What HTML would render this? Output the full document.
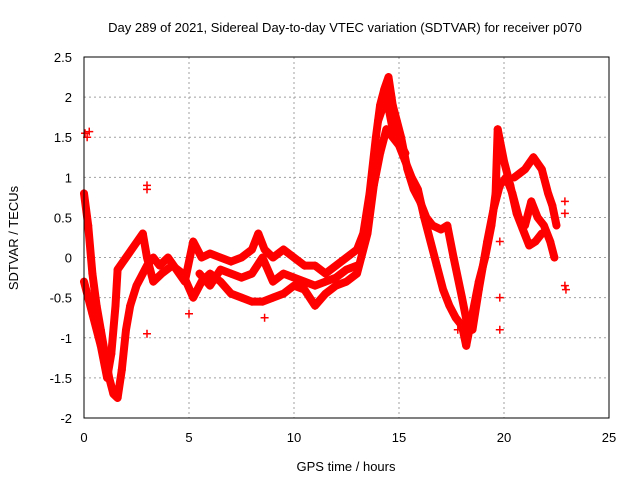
<!DOCTYPE html>
<html><head><meta charset="utf-8">
<style>
body{margin:0;background:#fff;}
svg text{font-family:"Liberation Sans",sans-serif;font-size:13px;fill:#000;}
</style></head>
<body>
<svg id="chart" width="640" height="480" xmlns="http://www.w3.org/2000/svg">
<rect width="640" height="480" fill="#fff"/>
<text x="345" y="32" text-anchor="middle">Day 289 of 2021, Sidereal Day-to-day VTEC variation (SDTVAR) for receiver p070</text>
<text x="346" y="471" text-anchor="middle">GPS time / hours</text>
<text transform="translate(18,238) rotate(-90)" text-anchor="middle">SDTVAR / TECUs</text>
<g id="grid"></g><g id="ticks"></g><g id="marks"></g>
<rect x="84" y="57" width="525" height="361" fill="none" stroke="#000"/>
</svg>
<script>
const xTicks=[0,5,10,15,20,25];
const yTicks=[-2,-1.5,-1,-0.5,0,0.5,1,1.5,2,2.5];
const yTickLabels=["-2","-1.5","-1","-0.5","0","0.5","1","1.5","2","2.5"];
const trackATime=[0,0.2,0.4,0.6,0.8,1.0,1.2,1.4,1.6,1.8,2.0,2.2,2.5,2.8,3.0,3.3,3.6,4.0,4.4,4.8,5.2,5.6,6.0,6.5,7.0,7.5,8.0,8.3,8.6,9.0,9.5,10.0,10.5,11.0,11.5,12.0,12.5,13.0,13.3,13.6,13.9,14.1,14.3,14.5,14.7,14.9,15.1,15.4,15.7,16.0,16.3,16.6,17.0,17.3,17.6,18.0,18.3,18.5,18.8,19.2,19.5,19.8,20.1,20.4,20.7,21.0,21.3,21.6,21.9,22.2,22.4];
const trackAValue=[0.8,0.4,-0.2,-0.6,-0.9,-1.2,-1.5,-1.7,-1.75,-1.4,-0.9,-0.6,-0.35,-0.2,-0.1,0.0,-0.1,0.0,-0.15,-0.3,0.2,0.0,0.05,0.0,-0.05,0.0,0.1,0.3,0.1,0.0,0.1,0.0,-0.1,-0.1,-0.2,-0.1,0.0,0.1,0.3,0.8,1.5,1.9,2.1,2.25,1.9,1.7,1.5,1.1,0.85,0.7,0.5,0.4,0.35,0.4,0.0,-0.5,-0.9,-0.9,-0.4,0.2,0.6,0.9,1.0,0.8,0.5,0.4,0.7,0.5,0.4,0.2,0.0];
const trackBTime=[0,0.4,0.8,1.1,1.3,1.5,1.6,2.0,2.4,2.8,3.0,3.3,3.7,4.2,4.7,5.2,5.6,6.0,6.5,7.0,7.5,8.0,8.5,9.0,9.5,10.0,10.5,11.0,11.5,12.0,12.5,13.0,13.5,13.8,14.1,14.4,14.7,15.0,15.3,15.6,15.9,16.2,16.5,16.8,17.1,17.4,17.7,18.0,18.2,18.5,18.8,19.1,19.4,19.6,19.7,20.0,20.3,20.6,20.9,21.2,21.5,21.8];
const trackBValue=[-0.3,-0.7,-1.1,-1.5,-1.2,-0.6,-0.15,0.0,0.15,0.3,0.0,-0.3,-0.2,-0.1,-0.2,-0.5,-0.3,-0.2,-0.3,-0.45,-0.5,-0.55,-0.55,-0.5,-0.45,-0.35,-0.4,-0.6,-0.45,-0.35,-0.3,-0.2,0.3,0.9,1.3,1.6,1.5,1.4,1.2,1.0,0.85,0.5,0.2,-0.1,-0.4,-0.6,-0.75,-0.85,-1.1,-0.7,-0.3,0.0,0.4,0.8,1.6,1.2,0.9,0.55,0.35,0.15,0.2,0.3];
const trackCTime=[5.5,6.0,6.5,7.0,7.5,8.0,8.5,9.0,9.5,10.0,10.5,11.0,11.5,12.0,12.5,13.0];
const trackCValue=[-0.2,-0.35,-0.15,-0.2,-0.25,-0.2,0.0,-0.3,-0.2,-0.25,-0.3,-0.35,-0.3,-0.25,-0.15,-0.1];
const trackDTime=[20.5,21.0,21.4,21.8,22.1,22.3,22.5];
const trackDValue=[1.0,1.1,1.25,1.1,0.8,0.65,0.4];
const trackETime=[14.0,14.4,14.7,15.0,15.3];
const trackEValue=[1.7,2.0,1.6,1.45,1.3];
const isoTime=[0.05,0.15,0.25,3.0,3.0,3.0,5.0,8.6,22.9,22.9,22.9,22.95,17.8,19.8,19.8,19.8];
const isoValue=[1.55,1.5,1.57,0.85,0.9,-0.95,-0.7,-0.75,0.7,0.55,-0.35,-0.4,-0.9,-0.5,-0.9,0.2];
const X=t=>84+t*21, Y=v=>418-(v+2)*(361/4.5);
const NS="http://www.w3.org/2000/svg";
const grid=document.getElementById('grid'),ticks=document.getElementById('ticks'),marks=document.getElementById('marks');
function mk(tag,attrs,parent){const e=document.createElementNS(NS,tag);for(const k in attrs)e.setAttribute(k,attrs[k]);parent.appendChild(e);return e;}
xTicks.forEach(t=>{
 const g=mk('line',{x1:X(t),x2:X(t),y1:57,y2:418,stroke:'#a0a0a0','stroke-dasharray':'2,3'},grid);
 
 
 const tx=mk('text',{x:X(t),y:442,'text-anchor':'middle'},ticks);tx.textContent=String(t);
 
 
});
yTicks.forEach((v,i)=>{
 const g=mk('line',{x1:84,x2:609,y1:Y(v),y2:Y(v),stroke:'#a0a0a0','stroke-dasharray':'2,3'},grid);
 
 
 const tx=mk('text',{x:72,y:Y(v)+5,'text-anchor':'end'},ticks);tx.textContent=yTickLabels[i];
 
 
});
function track(ts,vs,name,line){
 if(line){const p=mk('polyline',{points:ts.map((t,i)=>X(t)+','+Y(vs[i])).join(' '),fill:'none',stroke:'#f00','stroke-width':8,'stroke-linejoin':'round','stroke-linecap':'round'},marks);
  
  }
 ts.forEach((t,i)=>{const x=X(t),y=Y(vs[i]);
  const m=mk('path',{d:`M${x-4},${y}h8M${x},${y-4}v8`,stroke:'#f00','stroke-width':1.5},marks);
  
  });
}
track(trackATime,trackAValue,'track-a',true);
track(trackBTime,trackBValue,'track-b',true);
track(trackCTime,trackCValue,'track-c',true);
track(trackDTime,trackDValue,'track-d',true);
track(trackETime,trackEValue,'track-e',true);
track(isoTime,isoValue,'isolated',false);
</script>
</body></html>
